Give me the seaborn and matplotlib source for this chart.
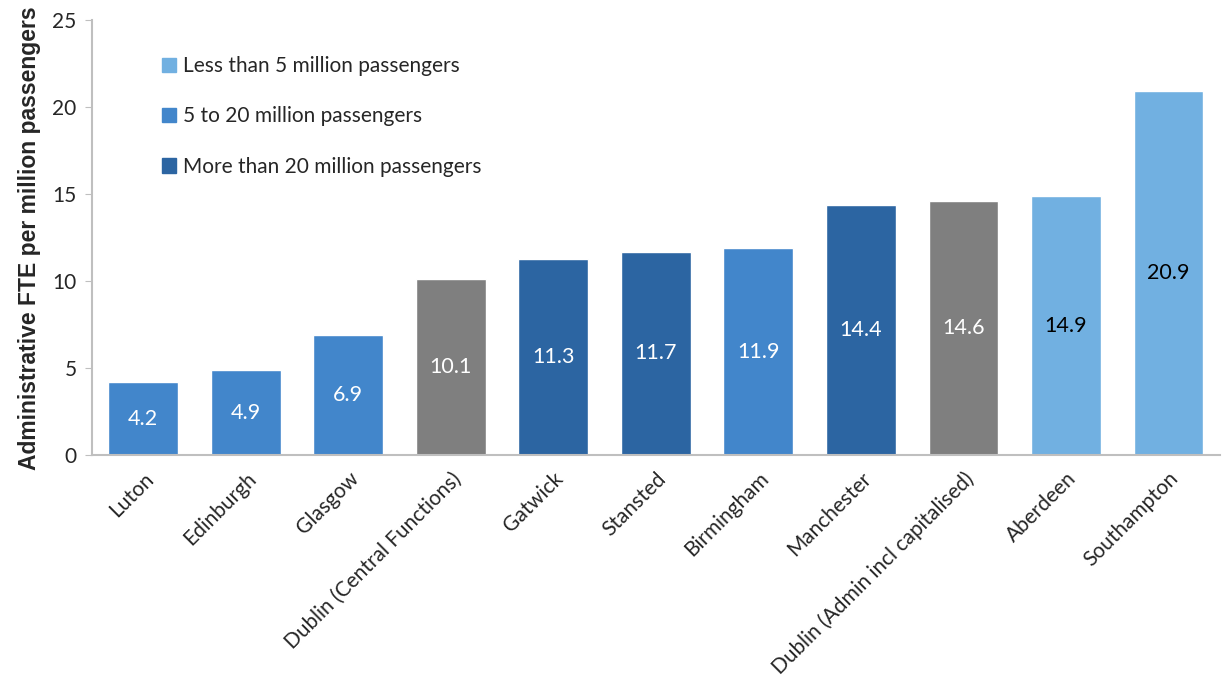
import pandas as pd
import seaborn as sns
import matplotlib.pyplot as plt
from matplotlib.patches import Patch

airports = ['Luton', 'Edinburgh', 'Glasgow', 'Dublin (Central Functions)', 'Gatwick',
            'Stansted', 'Birmingham', 'Manchester', 'Dublin (Admin incl capitalised)',
            'Aberdeen', 'Southampton']
fte = [4.2, 4.9, 6.9, 10.1, 11.3, 11.7, 11.9, 14.4, 14.6, 14.9, 20.9]
size_group = ['mid', 'mid', 'mid', 'dublin', 'large', 'large', 'mid', 'large', 'dublin', 'small', 'small']

group_names = {'small': 'Less than 5 million passengers',
               'mid': '5 to 20 million passengers',
               'large': 'More than 20 million passengers'}
colours = {'small': '#71B0E1', 'mid': '#4286CB', 'large': '#2C65A2', 'dublin': '#7F7F7F'}
label_col = {'small': 'black', 'mid': 'white', 'large': 'white', 'dublin': 'white'}

df = pd.DataFrame({'airport': airports, 'fte': fte, 'group': size_group})

sns.set_style('white')
plt.rcParams['font.family'] = ['Lato', 'DejaVu Sans']

fig = plt.figure(figsize=(12.27, 6.93), dpi=100)
ax = fig.add_axes([0.075, 0.343, 0.919, 0.628])

sns.barplot(data=df, x='airport', y='fte', hue='group', palette=colours,
            dodge=False, width=0.68, legend=False, ax=ax, saturation=1)

# value labels in the middle of each bar
for p, v, g in zip(sorted(ax.patches, key=lambda r: r.get_x()), fte, size_group):
    ax.text(p.get_x() + p.get_width() / 2, v / 2, f'{v:.1f}', ha='center', va='center',
            color=label_col[g], fontsize=15.5)

ax.set_ylim(0, 25)
ax.set_yticks([0, 5, 10, 15, 20, 25])
ax.set_xlim(-0.5, len(airports) - 0.5)
ax.set_xlabel('')
ax.set_ylabel('Administrative FTE per million passengers', fontsize=16.5, fontweight='bold',
              family='Liberation Sans', labelpad=8)
plt.setp(ax.get_xticklabels(), rotation=45, ha='right', rotation_mode='anchor', fontsize=15)
ax.tick_params(axis='y', labelsize=15, left=True, length=5, color='#BFBFBF', pad=6)
ax.tick_params(axis='x', bottom=False, pad=6)

for s in ['top', 'right']:
    ax.spines[s].set_visible(False)
for s in ['left', 'bottom']:
    ax.spines[s].set_color('#BFBFBF')
    ax.spines[s].set_linewidth(1.5)

handles = [Patch(color=colours[k]) for k in ['small', 'mid', 'large']]
labels = [group_names[k] for k in ['small', 'mid', 'large']]
ax.legend(handles, labels, loc='upper left', bbox_to_anchor=(0.045, 0.96), frameon=False,
          fontsize=15, handlelength=0.7, handleheight=0.7, handletextpad=0.35, labelspacing=1.45)

fig.savefig('out.png', dpi=100)
